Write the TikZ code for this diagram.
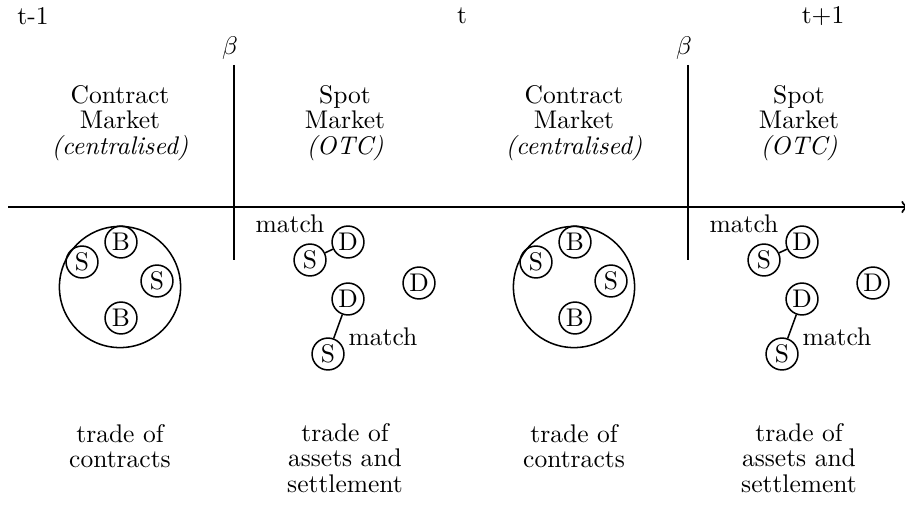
\documentclass[tikz,border=0pt]{standalone}
\begin{document}
\begin{tikzpicture}[x=0.392pt, y=-0.392pt,
  agent/.style={draw, semithick, circle, minimum size=12.5pt, inner sep=0pt},
  mkt/.style={align=center, font={\baselineskip=10pt}}]
\useasboundingbox (0,0) rectangle (905,507);
% time axis
\coordinate (ax0) at (8,207);
\coordinate (ax1) at (908,207);
\draw [thick, ->] (ax0) -- (ax1);
\node (tprev) at (33,16) {t-1};
\node (tnow) at (462,16) {t};
\node (tnext) at (823,16) {t+1};
\foreach \dx/\p in {0/a, 454/b} {
\begin{scope}[shift={(\dx,0)}]
% contract market
\node [mkt] (cm\p) at (120,123) {Contract\\Market\\\textit{(centralised)}};
\node [draw, semithick, circle, minimum size=47.5pt] (pool\p) at (120,287) {};
\node [agent] (s1\p) at (82,262) {S};
\node [agent] (b1\p) at (121,242) {B};
\node [agent] (s2\p) at (157,281) {S};
\node [agent] (b2\p) at (121,318) {B};
\node [mkt] (tc\p) at (120,446) {trade of\\contracts};
% clearing
\coordinate (bt\p) at (234,65);
\coordinate (bb\p) at (234,260);
\draw [thick] (bt\p) -- (bb\p);
\node (beta\p) at (230,48) {$\beta$};
% spot market
\node [mkt] (sm\p) at (345,123) {Spot\\Market\\\textit{(OTC)}};
\node [agent] (s3\p) at (310,260) {S};
\node [agent] (d1\p) at (348,242) {D};
\node [agent] (d2\p) at (419,283) {D};
\node [agent] (d3\p) at (348,299) {D};
\node [agent] (s4\p) at (328,354) {S};
\draw [semithick] (s3\p) -- (d1\p);
\draw [semithick] (d3\p) -- (s4\p);
\node (m1\p) at (290,224) {match};
\node (m2\p) at (383,337) {match};
\node [mkt] (ts\p) at (345,458) {trade of\\assets and\\settlement};
\end{scope}
}
\end{tikzpicture}
\end{document}
